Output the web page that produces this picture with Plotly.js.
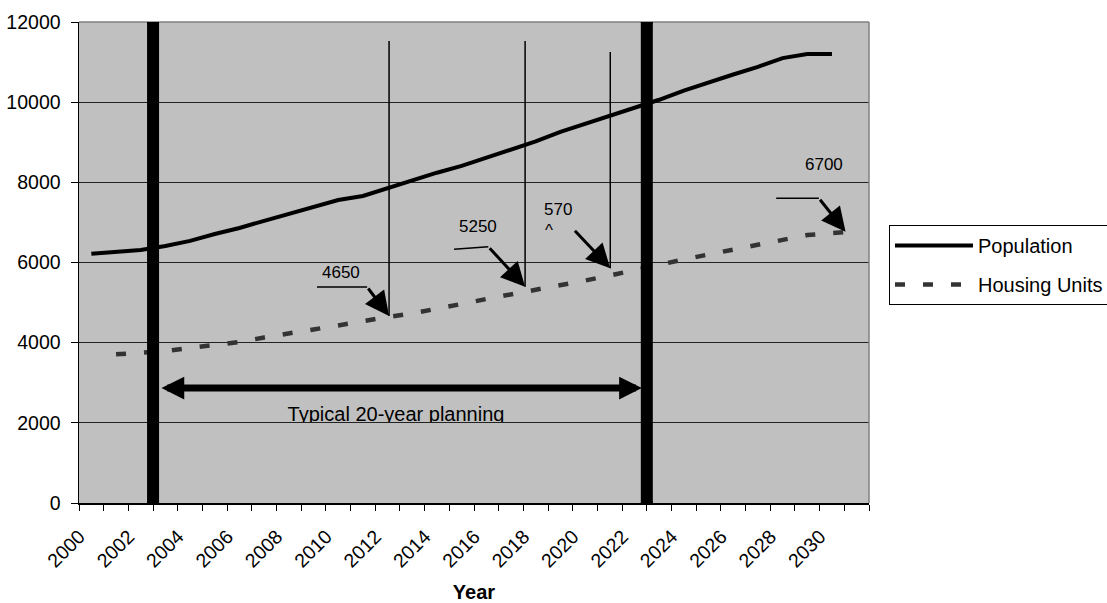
<!DOCTYPE html>
<html>
<head>
<meta charset="utf-8">
<script src="https://cdn.plot.ly/plotly-3.0.1.min.js"></script>
<style>html,body{margin:0;padding:0;background:#fff;}#chart{width:1107px;height:603px;}</style>
</head>
<body>
<div id="chart"></div>
<script>
// ---- data ----
const popYears = [2000,2001,2002,2003,2004,2005,2006,2007,2008,2009,2010,2011,2012,2013,2014,2015,2016,2017,2018,2019,2020,2021,2022,2023,2024,2025,2026,2027,2028,2029,2030];
const population = [6220,6260,6310,6410,6540,6710,6860,7040,7210,7380,7560,7660,7860,8050,8240,8410,8610,8800,9020,9260,9460,9660,9840,10060,10290,10500,10690,10880,11100,11200,11200];
const housingYears = [2001,2002,2003,2004,2005,2006,2007,2008,2009,2010,2011,2012,2013,2014,2015,2016,2017,2018,2019,2020,2021,2022,2023,2024,2025,2026,2027,2028,2029,2030,2031];
const housing = [3710,3760,3790,3870,3940,4015,4130,4240,4330,4430,4540,4640,4730,4840,4965,5090,5200,5315,5440,5550,5675,5815,5950,6075,6200,6325,6435,6575,6685,6735,6775];
const tickYears = [2000,2002,2004,2006,2008,2010,2012,2014,2016,2018,2020,2022,2024,2026,2028,2030];
const tickLabels = ['2000','2002','2004','2006','2008','2010','2012','2014','2016','2018','2020','2022','2024','2026','2028','2030'];
const seriesNames = ['Population','Housing Units'];
const planStart = 2002.5, planEnd = 2022.5;
const planLabel = 'Typical 20-year planning';
// callouts: label, label position, elbow line, arrow tip, thin marker line
const callouts = [
  {text:'4650', tx:2010.12, ty:5739, lx0:2009.14, lx1:2011.17, ly:5389, px:2012.06, py:4666, vx:2012.06, vtop:11527},
  {text:'5250', tx:2015.67, ty:6886, lx0:2014.69, lx1:2016.08, ly:6330, ly1:6395, px:2017.57, py:5397, vx:2017.57, vtop:11527},
  {text:'570',  tx:2018.91, ty:7310, lx0:null, px:2021.02, py:5856, ax:2019.53, ay:6829, vx:2021.02, vtop:11252},
  {text:'6700', tx:2029.68, ty:8433, lx0:2027.74, lx1:2029.47, ly:7602, px:2030.55, py:6769}
];

const FONT = 'Arial, "Liberation Sans", sans-serif';
const xRange = [popYears[0] - 0.5, housingYears[housingYears.length-1] + 0.5];
const boundaries = popYears.map(y => y - 0.5).concat([popYears[popYears.length-1] + 0.5, housingYears[housingYears.length-1] + 0.5]);
// inner helper axis (for the clipped planning label) spans 2%..98% of the plot width
const span = xRange[1] - xRange[0];
const x2Range = [xRange[0] + 0.02*span, xRange[0] + 0.98*span];

const traces = [
  {x: popYears, y: population, name: seriesNames[0], type:'scatter', mode:'lines',
   line:{color:'#000', width:4}, legendgroup:'a', hoverinfo:'skip'},
  {x: housingYears, y: housing, name: seriesNames[1], type:'scatter', mode:'lines',
   line:{color:'#333333', width:4.5, dash:'10px,18px'}, legendgroup:'b', hoverinfo:'skip'},
  {x:[(planStart+planEnd)/2 - 0.16], y:[0.163], xaxis:'x2', yaxis:'y3', type:'scatter', mode:'text', text:[planLabel],
   textposition:'middle center', textfont:{family:FONT, size:20, color:'#000'}, showlegend:false,
   cliponaxis:true, hoverinfo:'skip'}
];

const shapes = [];
const annotations = [];
// plot border top/right (grey like Excel)
shapes.push({type:'line', xref:'paper', yref:'paper', x0:0, x1:1, y0:1, y1:1, line:{color:'#808080', width:1.5}});
shapes.push({type:'line', xref:'paper', yref:'paper', x0:1, x1:1, y0:0, y1:1, line:{color:'#808080', width:1.5}});
// thick planning lines with round caps
[planStart, planEnd].forEach(xv => {
  shapes.push({type:'line', xref:'x', yref:'y', x0:xv, x1:xv, y0:0, y1:12000, line:{color:'#000', width:12}});
  [0, 12000].forEach(yv => shapes.push({type:'circle', xref:'x', yref:'y', xsizemode:'pixel', ysizemode:'pixel',
    xanchor:xv, yanchor:yv, x0:-6, x1:6, y0:-6, y1:6, fillcolor:'#000', line:{width:0}}));
});
callouts.forEach(c => {
  if (c.vx !== undefined) shapes.push({type:'line', xref:'x', yref:'y', x0:c.vx, x1:c.vx, y0:c.py, y1:c.vtop, line:{color:'#000', width:1.5}});
  let ax, ay;
  if (c.lx0 !== null) {
    const ly1 = (c.ly1 !== undefined) ? c.ly1 : c.ly;
    shapes.push({type:'line', xref:'x', yref:'y', x0:c.lx0, x1:c.lx1, y0:c.ly, y1:ly1, line:{color:'#000', width:1.5}});
    ax = c.lx1; ay = ly1;
  } else { ax = c.ax; ay = c.ay; }
  annotations.push({x:c.px, y:c.py, ax:ax, ay:ay, axref:'x', ayref:'y', xref:'x', yref:'y', text:'',
    showarrow:true, arrowhead:2, arrowsize:1.6, arrowwidth:3, arrowcolor:'#000', standoff:0});
  annotations.push({x:c.tx, y:c.ty, xref:'x', yref:'y', text:c.text, showarrow:false,
    font:{family:FONT, size:17, color:'#000'}});
});
// clipped second line of "5700"
annotations.push({x:2018.53, y:6786, xref:'x', yref:'y', text:'^', showarrow:false, font:{family:FONT, size:17, color:'#000'}});
// double arrow for planning window
annotations.push({x:planEnd - 0.2, y:2869, ax:planStart + 0.28, ay:2869, axref:'x', ayref:'y', xref:'x', yref:'y', text:'',
  showarrow:true, arrowside:'end+start', arrowhead:2, startarrowhead:2, arrowsize:0.65, startarrowsize:0.65,
  arrowwidth:7, arrowcolor:'#000', standoff:0, startstandoff:0});

const layout = {
  width:1107, height:603,
  margin:{l:79, r:238, t:22, b:100, pad:0, autoexpand:false},
  paper_bgcolor:'#fff', plot_bgcolor:'#C0C0C0',
  font:{family:FONT, color:'#000'},
  showlegend:true,
  xaxis:{range:xRange, tickmode:'array', tickvals:tickYears, ticktext:tickLabels, tickangle:-45,
    ticks:'', showgrid:false, zeroline:false, showline:true, linecolor:'#000', linewidth:1.5,
    tickfont:{family:FONT, size:19.5, color:'#000'}, ticklabelstandoff:13, ticklabelshift:-12,
    minor:{tickmode:'array', tickvals:boundaries, ticks:'outside', ticklen:6, tickcolor:'#000', tickwidth:1, showgrid:false},
    title:{text:'Year', font:{family:FONT, size:20, weight:'bold', color:'#000'}, standoff:23},
    automargin:false, fixedrange:true},
  xaxis2:{domain:[0.02, 0.98], range:x2Range, anchor:'y3', visible:false, fixedrange:true, showgrid:false, zeroline:false},
  yaxis:{range:[0,12000], dtick:2000, tick0:0, tickformat:'d', ticks:'outside', ticklen:7, tickcolor:'#000',
    showgrid:true, gridcolor:'#222', gridwidth:1, zeroline:false, showline:true, linecolor:'#000', linewidth:1.5,
    tickfont:{family:FONT, size:19.5, color:'#000'}, ticklabelstandoff:6, automargin:false, fixedrange:true},
  yaxis3:{domain:[0.1684, 0.24], range:[0,1], anchor:'x2', visible:false, fixedrange:true, showgrid:false, zeroline:false},
  legend:{x:1.0253, xanchor:'left', y:0.578, yanchor:'top', bgcolor:'#fff', bordercolor:'#000', borderwidth:1,
    font:{family:FONT, size:20, color:'#000'}, itemwidth:78, traceorder:'grouped', tracegroupgap:10},
  shapes:shapes, annotations:annotations
};

Plotly.newPlot('chart', traces, layout, {staticPlot:true, displayModeBar:false});
</script>
</body>
</html>
